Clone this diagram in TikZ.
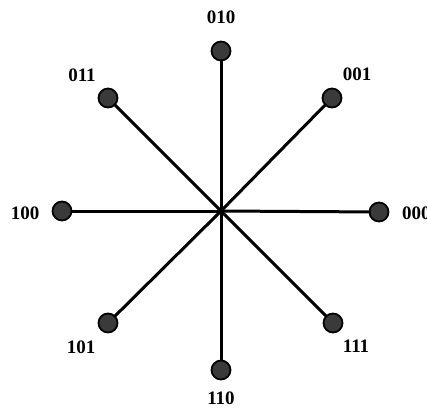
\documentclass[tikz,border=0pt]{standalone}
\usepackage{fontspec}
\setmainfont{Liberation Serif}
\usetikzlibrary{backgrounds}
\definecolor{dotfill}{HTML}{3A3A3A}
\begin{document}
\begin{tikzpicture}[x=1pt,y=-1pt,
  spoke/.style={line width=3pt,black},
  dot/.style={circle,draw=black,line width=1.8pt,fill=dotfill,minimum size=19pt,inner sep=0pt},
  lbl/.style={font=\fontsize{19}{19}\selectfont\bfseries,inner sep=0pt}]
\clip (0,0) rectangle (427,409);
\coordinate (c) at (221,211);
\node[dot] (d010) at (221,51) {};
\node[dot] (d001) at (332,98) {};
\node[dot] (d000) at (379,212) {};
\node[dot] (d111) at (333,323) {};
\node[dot] (d110) at (221,370) {};
\node[dot] (d101) at (108,323) {};
\node[dot] (d100) at (62,211) {};
\node[dot] (d011) at (108,98) {};
\begin{scope}[on background layer]
\foreach \n in {d010,d001,d000,d111,d110,d101,d100,d011}
  \draw[spoke] (c) -- (\n.center);
\end{scope}
\node[lbl] (t010) at (221,17) {010};
\node[lbl] (t001) at (357,74) {001};
\node[lbl,anchor=west] (t000) at (402,213) {000};
\node[lbl] (t111) at (356,346) {111};
\node[lbl] (t110) at (221,398) {110};
\node[lbl] (t101) at (81,347) {101};
\node[lbl] (t100) at (25,213) {100};
\node[lbl] (t011) at (82,75) {011};
\end{tikzpicture}
\end{document}
